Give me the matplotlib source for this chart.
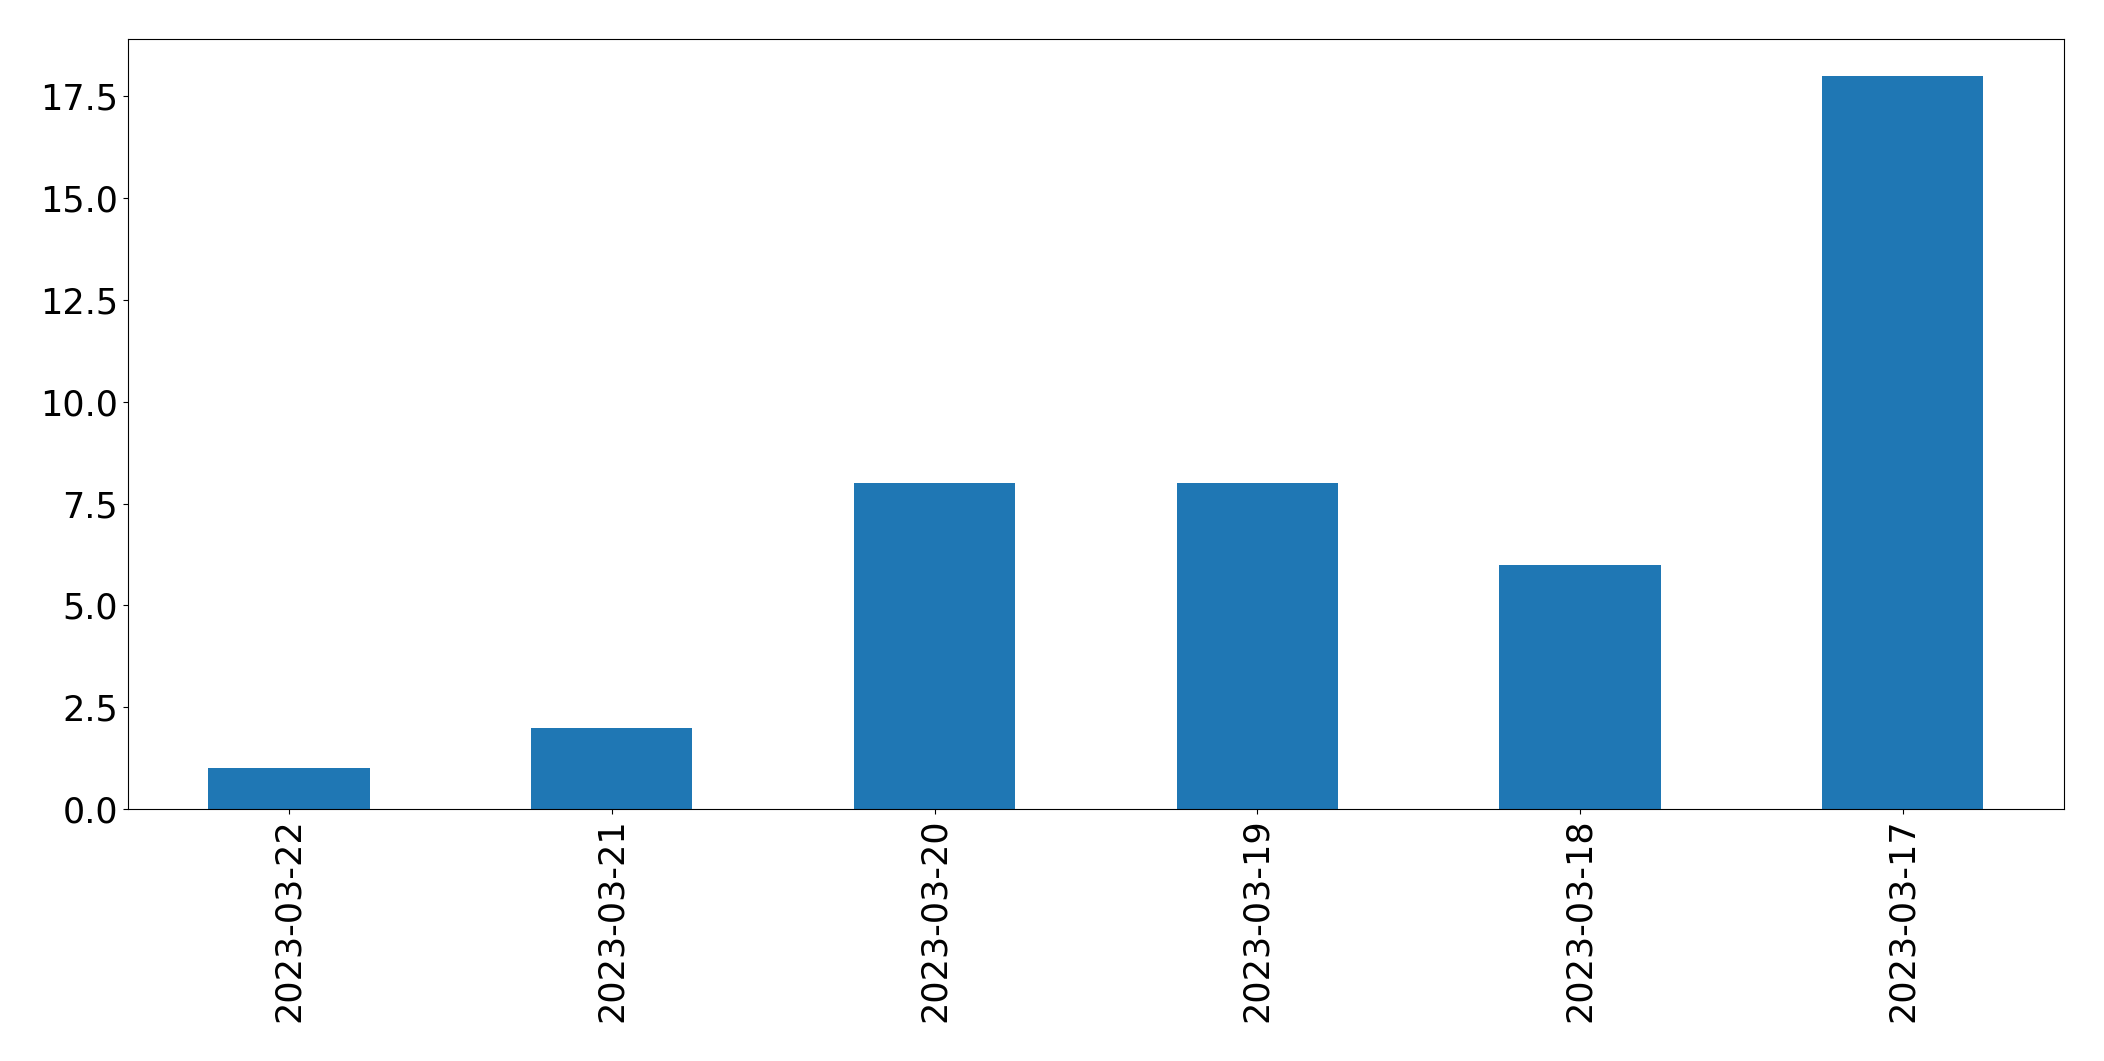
import matplotlib.pyplot as plt
import numpy as np

dates = ['2023-03-22', '2023-03-21', '2023-03-20', '2023-03-19', '2023-03-18', '2023-03-17']
counts = [1, 2, 8, 8, 6, 18]

fig, ax = plt.subplots(figsize=(21.04, 10.61), dpi=100)
fig.subplots_adjust(left=0.0607, right=0.981, top=0.963, bottom=0.2375)

x = np.arange(len(dates))
ax.bar(x, counts, width=0.5, color='#1f77b4')
ax.set_xlim(-0.5, len(dates) - 0.5)
ax.set_xticks(x)
ax.set_xticklabels(dates, rotation=90)
ax.tick_params(axis='both', labelsize=25.2)

fig.savefig('out.png', dpi=100)
